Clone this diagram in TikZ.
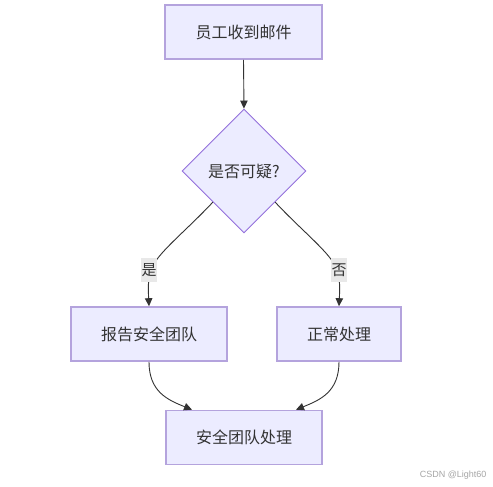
\documentclass[tikz,border=0pt]{standalone}
\usepackage{fontspec}
\setmainfont{Noto Sans CJK SC}
\newfontfamily\wmfont{Liberation Sans}
\usetikzlibrary{shapes.geometric,arrows.meta,calc}
\definecolor{boxfill}{HTML}{ECECFF}
\definecolor{boxline}{HTML}{B4A3DD}
\definecolor{dline}{HTML}{9370DB}
\definecolor{ink}{HTML}{333333}
\definecolor{lblbg}{HTML}{E8E8E8}
\tikzset{
  procbox/.style={draw=boxline, line width=1.6pt, fill=boxfill, rectangle, inner sep=0pt,
    minimum height=54pt, text=ink, font=\fontsize{16}{19}\selectfont},
  decbox/.style={draw=dline, line width=0.9pt, fill=boxfill, diamond, aspect=1, inner sep=0pt,
    minimum width=124pt, minimum height=124pt, text=ink, font=\fontsize{16}{19}\selectfont},
  flow/.style={draw=ink, line width=0.9pt, -{Triangle[length=8pt,width=7.5pt]}},
  edgelbl/.style={fill=lblbg, text=ink, inner sep=0pt, minimum width=16pt, minimum height=24pt,
    font=\fontsize{15}{18}\selectfont}
}
\begin{document}
\begin{tikzpicture}[x=1pt,y=-1pt]
\useasboundingbox (0,0) rectangle (493,487);
\fill[white] (0,0) rectangle (493,487);
\node[procbox, minimum width=157pt] (a) at (243.5,32) {员工收到邮件};
\node[decbox] (d) at (244,171) {是否可疑?};
\node[procbox, minimum width=156pt] (l) at (149,334) {报告安全团队};
\node[procbox, minimum width=124pt] (r) at (339,334) {正常处理};
\node[procbox, minimum width=156pt] (b) at (244,437.5) {安全团队处理};
\coordinate (bl) at ($(b.north)+(-52,0)$);
\coordinate (br) at ($(b.north)+(52,0)$);
\draw[flow] (a.south) -- (d.north);
\draw[flow] (d.south west) .. controls (185,232) and (156,254) .. (151,270) .. controls (148,284) .. (l.north);
\draw[flow] (d.south east) .. controls (303,232) and (332,254) .. (337,270) .. controls (340,284) .. (r.north);
\node[edgelbl] (ly) at (149,270) {是};
\node[edgelbl] (ln) at (339,270) {否};
\draw[flow] (l.south) .. controls (149,392) and (168,400) .. (bl);
\draw[flow] (r.south) .. controls (339,392) and (320,400) .. (br);
\node[text=black!35, font=\wmfont\fontsize{9}{10}\selectfont, anchor=east] (wm) at (490,475) {CSDN @Light60};
\end{tikzpicture}
\end{document}
